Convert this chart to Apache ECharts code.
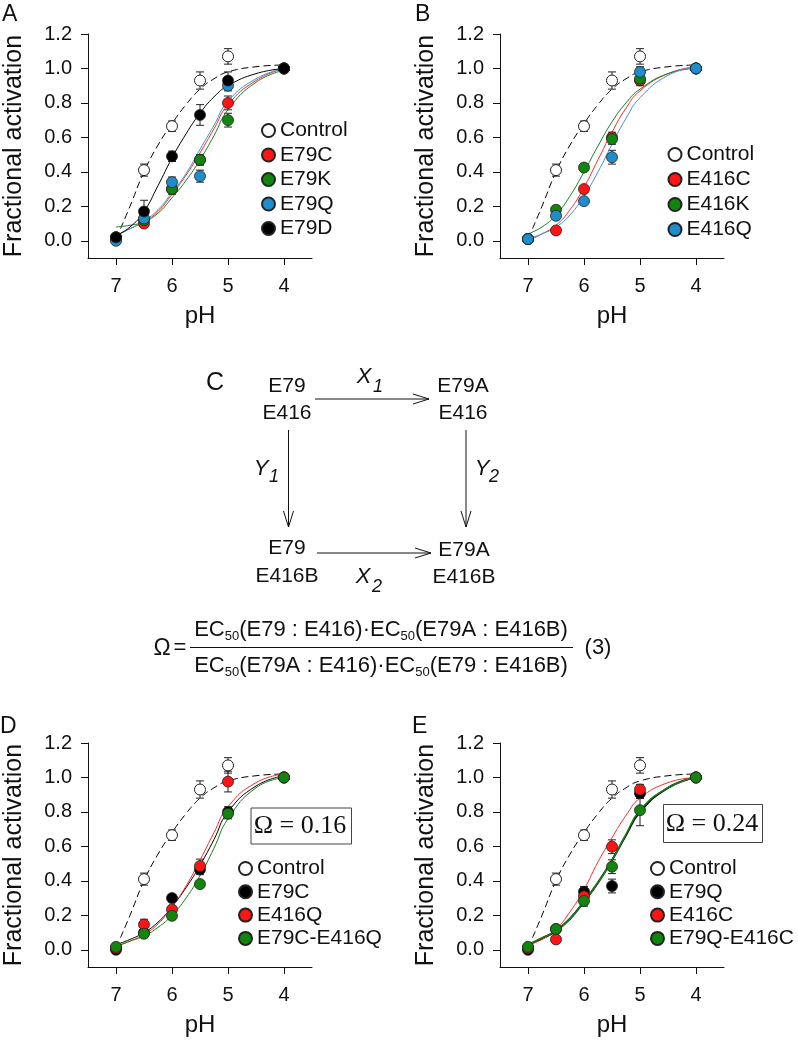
<!DOCTYPE html>
<html><head><meta charset="utf-8">
<script src="https://cdn.jsdelivr.net/npm/echarts@6/dist/echarts.min.js"></script>
<style>html,body{margin:0;padding:0;background:#fff}#c{width:798px;height:1040px}</style>
</head><body><div id="c"></div><script>
// ---------- data ----------
const PH = [7, 6.5, 6, 5.5, 5, 4];
const FIT_PH = [7, 6.75, 6.5, 6.25, 6, 5.75, 5.5, 5.25, 5, 4.5, 4];
const X_TICKS = [7, 6, 5, 4];
const Y_TICKS = [0, 0.2, 0.4, 0.6, 0.8, 1.0, 1.2];

// Control (same in every panel)
const controlMean = [0.01, 0.41, 0.665, 0.93, 1.07, 1.00];
const controlErr  = [0, 0.035, 0.03, 0.05, 0.045, 0];
const controlFitPH = [6.92, 6.75, 6.5, 6.25, 6, 5.75, 5.5, 5.25, 5, 4.5, 4];
const controlFit   = [0.07, 0.20, 0.40, 0.555, 0.68, 0.79, 0.88, 0.94, 0.98, 1.01, 1.02];

// Panel A
const aE79C = [0.02, 0.10, 0.30, 0.47, 0.80, 1.00];
const aE79CErr = [0, 0.02, 0.02, 0.03, 0.04, 0];
const aE79CFit = [0.03, 0.07, 0.11, 0.17, 0.27, 0.38, 0.51, 0.65, 0.79, 0.93, 1.00];
const aE79K = [0.02, 0.12, 0.30, 0.47, 0.70, 1.00];
const aE79KErr = [0, 0.02, 0.03, 0.03, 0.04, 0];
const aE79KFit = [0.08, 0.09, 0.11, 0.16, 0.25, 0.35, 0.47, 0.61, 0.76, 0.92, 0.99];
const aE79Q = [0.00, 0.13, 0.34, 0.375, 0.90, 1.00];
const aE79QErr = [0, 0.02, 0.03, 0.035, 0.03, 0];
const aE79QFit = [0.03, 0.07, 0.115, 0.18, 0.28, 0.39, 0.53, 0.67, 0.81, 0.94, 1.00];
const aE79D = [0.02, 0.17, 0.49, 0.73, 0.93, 1.00];
const aE79DErr = [0, 0.065, 0.03, 0.06, 0.05, 0];
const aE79DFit = [0.03, 0.08, 0.17, 0.32, 0.48, 0.62, 0.74, 0.835, 0.90, 0.97, 1.00];

// Panel B
const bE416C = [0.01, 0.06, 0.30, 0.60, 0.93, 1.00];
const bE416CErr = [0, 0.015, 0.02, 0.03, 0.03, 0];
const bE416CFit = [0.00, 0.04, 0.09, 0.18, 0.31, 0.47, 0.63, 0.77, 0.87, 0.97, 1.01];
const bE416K = [0.01, 0.18, 0.425, 0.59, 0.94, 1.00];
const bE416KErr = [0, 0.02, 0.02, 0.03, 0.03, 0];
const bE416KFit = [0.04, 0.08, 0.15, 0.26, 0.40, 0.55, 0.69, 0.80, 0.88, 0.97, 1.00];
const bE416Q = [0.01, 0.145, 0.23, 0.485, 0.98, 1.00];
const bE416QErr = [0, 0.02, 0.02, 0.04, 0.03, 0];
const bE416QFit = [0.01, 0.04, 0.08, 0.15, 0.26, 0.40, 0.56, 0.71, 0.83, 0.96, 1.01];

// Panel D
const dE79C = [0.00, 0.10, 0.30, 0.466, 0.80, 1.00];
const dE79CErr = [0, 0.02, 0.02, 0.03, 0.03, 0];
const dE79CFit = [0.03, 0.06, 0.10, 0.16, 0.25, 0.36, 0.49, 0.64, 0.80, 0.95, 1.01];
const dE416Q = [0.01, 0.147, 0.234, 0.486, 0.976, 1.00];
const dE416QErr = [0, 0.03, 0.02, 0.04, 0.06, 0];
const dE416QFit = [0.02, 0.05, 0.09, 0.15, 0.25, 0.37, 0.52, 0.68, 0.83, 0.97, 1.02];
const dDouble = [0.017, 0.093, 0.197, 0.381, 0.79, 1.00];
const dDoubleErr = [0, 0.01, 0.02, 0.02, 0.03, 0];
const dDoubleFit = [0.02, 0.05, 0.08, 0.13, 0.20, 0.30, 0.43, 0.59, 0.76, 0.94, 1.00];

// Panel E
const eE79Q = [0.00, 0.12, 0.337, 0.37, 0.908, 1.00];
const eE79QErr = [0, 0.02, 0.03, 0.04, 0.03, 0];
const eE79QFit = [0.03, 0.065, 0.11, 0.18, 0.28, 0.39, 0.52, 0.665, 0.80, 0.94, 1.00];
const eE416C = [0.01, 0.06, 0.31, 0.598, 0.93, 1.00];
const eE416CErr = [0, 0.015, 0.02, 0.04, 0.03, 0];
const eE416CFit = [0.03, 0.06, 0.12, 0.22, 0.35, 0.51, 0.65, 0.78, 0.88, 0.97, 1.00];
const eDouble = [0.017, 0.12, 0.283, 0.482, 0.81, 1.00];
const eDoubleErr = [0, 0.02, 0.03, 0.04, 0.09, 0];
const eDoubleFit = [0.03, 0.07, 0.11, 0.18, 0.28, 0.39, 0.52, 0.67, 0.81, 0.94, 1.00];

const OMEGA_D = '0.16';
const OMEGA_E = '0.24';

// ---------- styling ----------
const FONT = '"Liberation Sans", Arial, Helvetica, sans-serif';
const SERIF = '"Liberation Serif", "Times New Roman", serif';
const FILL = {white:'#ffffff', red:'#ff1414', green:'#12850f', blue:'#1f8ccc', black:'#000000'};
const STROKE = {white:'#000000', red:'#ff2a2a', green:'#1d7d1d', blue:'#3d92d8', black:'#000000'};

const panels = [
  {key:'A', grid:{left:88, top:34, width:224, height:224},
   legend:{left:261, top:120, gap:3.5, textGap:5},
   groups:[
    {name:'Control', mean:controlMean, err:controlErr, fitX:controlFitPH, fit:controlFit, color:'white', dashed:true},
    {name:'E79C', mean:aE79C, err:aE79CErr, fit:aE79CFit, color:'red'},
    {name:'E79K', mean:aE79K, err:aE79KErr, fit:aE79KFit, color:'green'},
    {name:'E79Q', mean:aE79Q, err:aE79QErr, fit:aE79QFit, color:'blue'},
    {name:'E79D', mean:aE79D, err:aE79DErr, fit:aE79DFit, color:'black'}]},
  {key:'B', grid:{left:500, top:34, width:224, height:224},
   legend:{left:667.5, top:144, gap:4, textGap:4.5},
   groups:[
    {name:'Control', mean:controlMean, err:controlErr, fitX:controlFitPH, fit:controlFit, color:'white', dashed:true},
    {name:'E416C', mean:bE416C, err:bE416CErr, fit:bE416CFit, color:'red'},
    {name:'E416K', mean:bE416K, err:bE416KErr, fit:bE416KFit, color:'green'},
    {name:'E416Q', mean:bE416Q, err:bE416QErr, fit:bE416QFit, color:'blue'}]},
  {key:'D', grid:{left:88, top:743, width:224, height:224},
   legend:{left:238, top:858, gap:2.3, textGap:5},
   groups:[
    {name:'Control', mean:controlMean, err:controlErr, fitX:controlFitPH, fit:controlFit, color:'white', dashed:true},
    {name:'E79C', mean:dE79C, err:dE79CErr, fit:dE79CFit, color:'black'},
    {name:'E416Q', mean:dE416Q, err:dE416QErr, fit:dE416QFit, color:'red'},
    {name:'E79C-E416Q', mean:dDouble, err:dDoubleErr, fit:dDoubleFit, color:'green'}]},
  {key:'E', grid:{left:500, top:743, width:224, height:224},
   legend:{left:650, top:858, gap:2.3, textGap:5},
   groups:[
    {name:'Control', mean:controlMean, err:controlErr, fitX:controlFitPH, fit:controlFit, color:'white', dashed:true},
    {name:'E79Q', mean:eE79Q, err:eE79QErr, fit:eE79QFit, color:'black', fitWidth:2},
    {name:'E416C', mean:eE416C, err:eE416CErr, fit:eE416CFit, color:'red'},
    {name:'E79Q-E416C', mean:eDouble, err:eDoubleErr, fit:eDoubleFit, color:'green', fitWidth:1.6}]}
];

function errRenderer(params, api) {
  const x = api.value(0), y = api.value(1), e = api.value(2);
  if (!(e > 0)) return null;
  const t = api.coord([x, y + e]), b = api.coord([x, y - e]);
  const cw = 4;
  const st = {stroke:'#222', lineWidth:1};
  return {type:'group', children:[
    {type:'line', shape:{x1:t[0], y1:t[1], x2:b[0], y2:b[1]}, style:st},
    {type:'line', shape:{x1:t[0]-cw, y1:t[1], x2:t[0]+cw, y2:t[1]}, style:st},
    {type:'line', shape:{x1:b[0]-cw, y1:b[1], x2:b[0]+cw, y2:b[1]}, style:st}
  ]};
}

const grid = [], xAxis = [], yAxis = [], series = [], legend = [];
panels.forEach((p, i) => {
  grid.push(Object.assign({containLabel:false}, p.grid));
  xAxis.push({type:'value', gridIndex:i, min:3.5, max:7.5, inverse:true,
    name:'pH', nameLocation:'middle', nameGap:46,
    nameTextStyle:{fontFamily:FONT, fontSize:24, color:'#111'},
    axisLine:{show:true, onZero:false, lineStyle:{color:'#111', width:1}},
    axisTick:{show:true, customValues:X_TICKS, length:7, lineStyle:{color:'#111'}},
    axisLabel:{customValues:X_TICKS, margin:18, fontFamily:FONT, fontSize:20, color:'#111'},
    splitLine:{show:false}});
  yAxis.push({type:'value', gridIndex:i, min:-0.1, max:1.2,
    name:'Fractional activation', nameLocation:'middle', nameGap:61,
    nameTextStyle:{fontFamily:FONT, fontSize:25, color:'#111'},
    axisLine:{show:true, onZero:false, lineStyle:{color:'#111', width:1}},
    axisTick:{show:true, customValues:Y_TICKS, length:7, lineStyle:{color:'#111'}},
    axisLabel:{customValues:Y_TICKS, margin:16, fontFamily:FONT, fontSize:20, color:'#111',
      formatter:v => Number(v).toFixed(1)},
    splitLine:{show:false}});

  // error bars
  p.groups.forEach(g => {
    series.push({type:'custom', name:p.key+':'+g.name+' err', xAxisIndex:i, yAxisIndex:i,
      renderItem:errRenderer, encode:{x:0, y:1}, z:2, silent:true,
      data:PH.map((x, k) => [x, g.mean[k], g.err[k]])});
  });
  // fitted curves
  p.groups.forEach(g => {
    const fx = g.fitX || FIT_PH;
    series.push({type:'line', name:p.key+':'+g.name+' fit', xAxisIndex:i, yAxisIndex:i,
      showSymbol:false, smooth:0.5, z:3, silent:true,
      lineStyle:{color:STROKE[g.color], width:g.fitWidth || 1, type:g.dashed ? [7,4] : 'solid'},
      data:fx.map((x, k) => [x, g.fit[k]])});
  });
  // points
  p.groups.forEach(g => {
    series.push({type:'scatter', name:p.key+':'+g.name, xAxisIndex:i, yAxisIndex:i,
      symbol:'circle', symbolSize:11, z:4,
      itemStyle:{color:FILL[g.color], borderColor:'#222', borderWidth:g.color==='white'?1:0.8, opacity:1},
      data:PH.map((x, k) => [x, g.mean[k]])});
  });
  legend.push({orient:'vertical', left:p.legend.left, top:p.legend.top, padding:0,
    itemWidth:13, itemHeight:13, itemGap:p.legend.gap, itemTextGap:p.legend.textGap,
    icon:'circle', selectedMode:false,
    textStyle:{fontFamily:FONT, fontSize:21, lineHeight:21, color:'#111'},
    formatter:n => n.slice(2),
    data:p.groups.map(g => ({name:p.key+':'+g.name}))});
});

// ---------- graphics: panel letters, scheme C, equation, omega boxes ----------
function txt(x, y, s, size, opts) {
  return Object.assign({type:'text', x:x, y:y, style:Object.assign({text:s, fontFamily:FONT, fontSize:size,
    fill:'#111', textAlign:'center', textVerticalAlign:'middle'}, (opts||{}))}, {silent:true});
}
function ln(x1, y1, x2, y2) {
  return {type:'line', shape:{x1, y1, x2, y2}, style:{stroke:'#111', lineWidth:1}, silent:true};
}
function head(pts) {
  return {type:'polyline', shape:{points:pts}, style:{stroke:'#111', lineWidth:1, fill:null}, silent:true};
}
const graphic = [
  txt(2, 15, 'A', 23, {textAlign:'left'}),
  txt(415, 15, 'B', 23, {textAlign:'left'}),
  txt(0, 727, 'D', 23, {textAlign:'left'}),
  txt(412, 727, 'E', 23, {textAlign:'left'}),
  txt(206, 383, 'C', 25, {textAlign:'left'}),
  // scheme
  txt(287, 386, 'E79', 21), txt(287, 413, 'E416', 21),
  txt(463, 386, 'E79A', 21), txt(463, 413, 'E416', 21),
  txt(287, 548, 'E79', 21), txt(287, 576, 'E416B', 21),
  txt(464, 550, 'E79A', 21), txt(464, 577, 'E416B', 21),
  ln(315, 399, 429, 399), head([[413, 394], [429, 399], [413, 404]]),
  ln(317, 553, 431, 553), head([[415, 548], [431, 553], [415, 558]]),
  ln(288.5, 430, 288.5, 527), head([[283.5, 511], [288.5, 527], [293.5, 511]]),
  ln(466, 430, 466, 527), head([[461, 511], [466, 527], [471, 511]]),
  txt(364, 377, 'X', 22, {fontStyle:'italic'}), txt(378, 387, '1', 18, {fontStyle:'italic'}),
  txt(261, 469, 'Y', 22, {fontStyle:'italic'}), txt(274, 477, '1', 18, {fontStyle:'italic'}),
  txt(482, 469, 'Y', 22, {fontStyle:'italic'}), txt(494, 477, '2', 18, {fontStyle:'italic'}),
  txt(363, 577, 'X', 22, {fontStyle:'italic'}), txt(377, 587, '2', 18, {fontStyle:'italic'}),
  // equation
  txt(162, 649, 'Ω', 23),
  txt(180, 648, '=', 22),
  ln(190, 647.5, 573, 647.5),
  {type:'text', x:381, y:630, silent:true, style:{
    text:'EC{s|50}(E79 : E416)·EC{s|50}(E79A : E416B)', fontFamily:FONT, fontSize:22, lineHeight:26,
    fill:'#111', textAlign:'center', textVerticalAlign:'middle',
    rich:{s:{fontFamily:FONT, fontSize:13, lineHeight:13, verticalAlign:'bottom', fill:'#111'}}}},
  {type:'text', x:381, y:666, silent:true, style:{
    text:'EC{s|50}(E79A : E416)·EC{s|50}(E79 : E416B)', fontFamily:FONT, fontSize:22, lineHeight:26,
    fill:'#111', textAlign:'center', textVerticalAlign:'middle',
    rich:{s:{fontFamily:FONT, fontSize:13, lineHeight:13, verticalAlign:'bottom', fill:'#111'}}}},
  txt(598, 648, '(3)', 22),
  // omega boxes
  {type:'rect', shape:{x:251, y:808, width:100.5, height:36}, style:{stroke:'#444', lineWidth:1, fill:'#fff'}, silent:true, z:10},
  txt(300, 826, 'Ω = ' + OMEGA_D, 26, {fontFamily:SERIF}),
  {type:'rect', shape:{x:663.5, y:804.5, width:99, height:38}, style:{stroke:'#444', lineWidth:1, fill:'#fff'}, silent:true, z:10},
  txt(712, 824, 'Ω = ' + OMEGA_E, 26, {fontFamily:SERIF})
];
graphic.forEach(g => { if (g.z === undefined) g.z = 11; });

const chart = echarts.init(document.getElementById('c'), null, {renderer:'canvas', width:798, height:1040});
chart.setOption({
  animation:false,
  backgroundColor:'#ffffff',
  textStyle:{fontFamily:FONT},
  grid, xAxis, yAxis, series, legend, graphic
});
</script></body></html>
